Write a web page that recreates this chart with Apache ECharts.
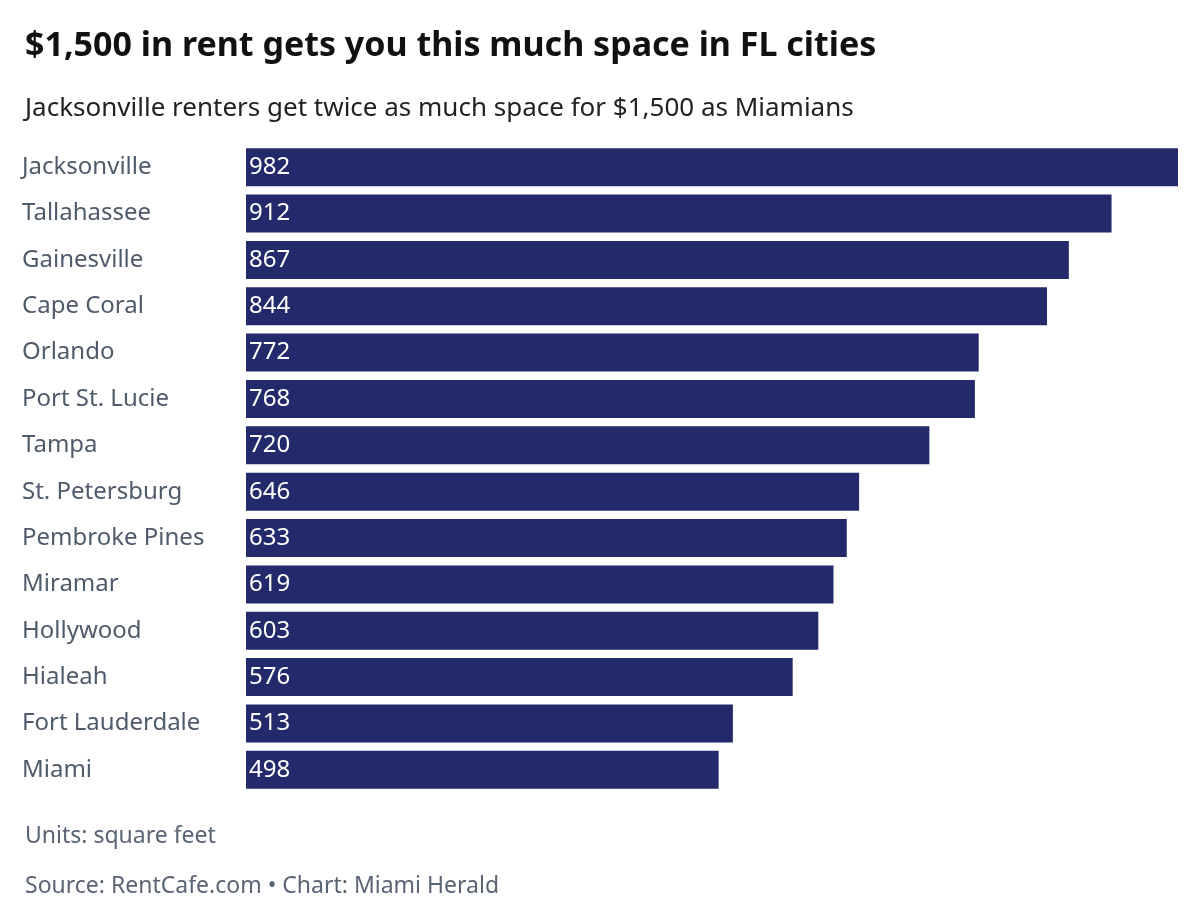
<!DOCTYPE html>
<html><head><meta charset="utf-8">
<script src="https://cdn.jsdelivr.net/npm/echarts@6/dist/echarts.min.js"></script>
<style>html,body{margin:0;padding:0;background:#fff}#c{width:1200px;height:921px}</style>
</head><body><div id="c"></div>
<script>
const cities = ["Jacksonville","Tallahassee","Gainesville","Cape Coral","Orlando","Port St. Lucie","Tampa","St. Petersburg","Pembroke Pines","Miramar","Hollywood","Hialeah","Fort Lauderdale","Miami"];
const sqft = [982,912,867,844,772,768,720,646,633,619,603,576,513,498];
const font = "Noto Sans";
const chart = echarts.init(document.getElementById('c'));
chart.setOption({
  animation:false,
  textStyle:{fontFamily:font},
  title:[
    {text:"$1,500 in rent gets you this much space in FL cities",left:20,top:24,textStyle:{fontFamily:font,fontSize:34,fontWeight:'bold',color:'#111'}},
    {text:"Jacksonville renters get twice as much space for $1,500 as Miamians",left:20,top:91,textStyle:{fontFamily:font,fontSize:26,fontWeight:'normal',color:'#222'}},
    {text:"Units: square feet",left:20,top:820,textStyle:{fontFamily:font,fontSize:23,fontWeight:'normal',color:'#5a6475'}},
    {text:"Source: RentCafe.com • Chart: Miami Herald",left:20,top:870,textStyle:{fontFamily:font,fontSize:23,fontWeight:'normal',color:'#5a6475'}}
  ],
  grid:{left:246,right:22,top:144,bottom:128,containLabel:false},
  xAxis:{type:'value',min:0,max:982,show:false},
  yAxis:{type:'category',data:cities,inverse:true,axisLine:{show:false},axisTick:{show:false},
    axisLabel:{align:'left',margin:224,fontSize:24,color:'#4f5a6b',fontFamily:font}},
  series:[{type:'bar',data:sqft,barCategoryGap:'18%',itemStyle:{color:'#232a6b'},
    label:{show:true,position:'insideLeft',offset:[-2,0],color:'#fff',fontSize:24,fontFamily:font}}]
});
</script></body></html>
